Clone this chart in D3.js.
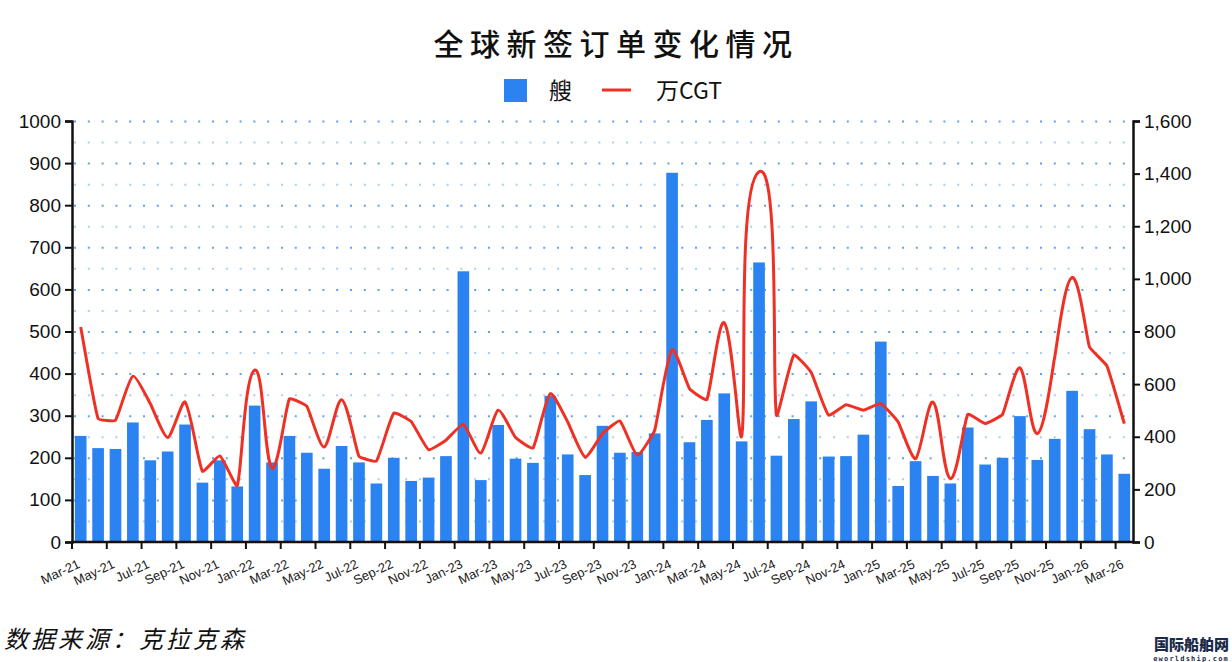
<!DOCTYPE html>
<html>
<head>
<meta charset="utf-8">
<script src="https://cdn.jsdelivr.net/npm/d3@7"></script>
<style>
  body { margin: 0; background: #fff; }
  svg { display: block; }
</style>
</head>
<body>
<svg id="chart"></svg>
<script>
// monthly categories, Mar-21 .. Mar-26
const months = [
  "Mar-21","Apr-21","May-21","Jun-21","Jul-21","Aug-21","Sep-21","Oct-21","Nov-21","Dec-21",
  "Jan-22","Feb-22","Mar-22","Apr-22","May-22","Jun-22","Jul-22","Aug-22","Sep-22","Oct-22","Nov-22","Dec-22",
  "Jan-23","Feb-23","Mar-23","Apr-23","May-23","Jun-23","Jul-23","Aug-23","Sep-23","Oct-23","Nov-23","Dec-23",
  "Jan-24","Feb-24","Mar-24","Apr-24","May-24","Jun-24","Jul-24","Aug-24","Sep-24","Oct-24","Nov-24","Dec-24",
  "Jan-25","Feb-25","Mar-25","Apr-25","May-25","Jun-25","Jul-25","Aug-25","Sep-25","Oct-25","Nov-25","Dec-25",
  "Jan-26","Feb-26","Mar-26"
];

// 艘 (left axis)
const ships = [
  252, 223, 221, 284, 194, 215, 279, 141, 194, 132,
  324, 189, 252, 212, 174, 228, 189, 139, 200, 145, 153, 204,
  643, 147, 278, 198, 188, 347, 208, 159, 276, 212, 214, 258,
  877, 237, 290, 353, 239, 664, 205, 292, 334, 203, 204, 255,
  476, 133, 192, 157, 139, 272, 184, 200, 299, 195, 245, 359,
  268, 208, 162
];

// 万CGT (right axis)
const cgt = [
  817, 469, 463, 630, 526, 397, 532, 269, 327, 215,
  653, 281, 544, 516, 361, 541, 326, 308, 490, 458, 351, 387,
  447, 338, 501, 397, 357, 564, 456, 323, 412, 460, 330, 425,
  731, 583, 541, 833, 402, 1407, 482, 710, 644, 482, 522, 501,
  526, 456, 317, 532, 241, 485, 450, 485, 662, 412, 703, 1005,
  741, 669, 450
];

const leftTicks = [0, 100, 200, 300, 400, 500, 600, 700, 800, 900, 1000];
const rightTicks = [0, 200, 400, 600, 800, 1000, 1200, 1400, 1600];

const width = 1232, height = 662;
const margin = { left: 72, right: 99, top: 121, bottom: 120 };
const svg = d3.select("#chart").attr("width", width).attr("height", height);

const x = d3.scaleBand()
  .domain(months)
  .range([margin.left, width - margin.right])
  .paddingInner(0.33)
  .paddingOuter(0.165);
const step = x.step();
const y = d3.scaleLinear().domain([0, 1000]).range([height - margin.bottom, margin.top]);
const y2 = d3.scaleLinear().domain([0, 1600]).range([height - margin.bottom, margin.top]);

// spreadsheet-style smoothing: bezier handles along neighbour direction,
// length proportional to the segment length
function smoothPath(pts, k) {
  const p = d3.path();
  const dist = (a, b) => Math.hypot(b[0] - a[0], b[1] - a[1]);
  const unit = (a, b) => { const d = dist(a, b) || 1; return [(b[0] - a[0]) / d, (b[1] - a[1]) / d]; };
  p.moveTo(pts[0][0], pts[0][1]);
  for (let i = 0; i < pts.length - 1; i++) {
    const p0 = pts[Math.max(i - 1, 0)], p1 = pts[i], p2 = pts[i + 1], p3 = pts[Math.min(i + 2, pts.length - 1)];
    const d12 = dist(p1, p2);
    const u1 = unit(p0, p2), u2 = unit(p1, p3);
    p.bezierCurveTo(
      p1[0] + u1[0] * d12 * k, p1[1] + u1[1] * d12 * k,
      p2[0] - u2[0] * d12 * k, p2[1] - u2[1] * d12 * k,
      p2[0], p2[1]);
  }
  return p.toString();
}

// dotted grid, every 50 on left axis
const grid = svg.append("g");
grid.selectAll("line")
  .data(d3.range(50, 1001, 50))
  .join("line")
  .attr("x1", margin.left + 2)
  .attr("x2", width - margin.right)
  .attr("y1", d => y(d) + 0.5)
  .attr("y2", d => y(d) + 0.5)
  .attr("stroke", d => d % 100 === 0 ? "#5fa2ee" : "#a8cdf6")
  .attr("stroke-width", 2)
  .attr("stroke-dasharray", "2,11.8");

// bars
svg.append("g")
  .selectAll("rect")
  .data(months)
  .join("rect")
  .attr("x", d => x(d))
  .attr("y", (d, i) => y(ships[i]))
  .attr("width", x.bandwidth())
  .attr("height", (d, i) => y(0) - y(ships[i]))
  .attr("fill", "#2b82f1");

// smoothed line
const pts = cgt.map((v, i) => [x(months[i]) + x.bandwidth() / 2, y2(v)]);
svg.append("path")
  .attr("d", smoothPath(pts, 0.1))
  .attr("fill", "none")
  .attr("stroke", "#ee3124")
  .attr("stroke-width", 3)
  .attr("stroke-linejoin", "round");

// left axis
const axL = svg.append("g")
  .attr("transform", `translate(${margin.left},0)`)
  .call(d3.axisLeft(y).tickValues(leftTicks).tickSize(7).tickPadding(4).tickFormat(d3.format("d")));
// right axis
const axR = svg.append("g")
  .attr("transform", `translate(${width - margin.right},0)`)
  .call(d3.axisRight(y2).tickValues(rightTicks).tickSize(7).tickPadding(4).tickFormat(d3.format(",")));

// bottom axis: ticks at band boundaries every two months
const tickIdx = d3.range(0, months.length, 2);
const axB = svg.append("g").attr("transform", `translate(0,${y(0)})`);
axB.append("line")
  .attr("x1", margin.left - 1).attr("x2", width - margin.right + 1)
  .attr("stroke", "#111").attr("stroke-width", 2.5);
axB.selectAll(".tk")
  .data(tickIdx)
  .join("line")
  .attr("class", "tk")
  .attr("x1", i => margin.left + i * step)
  .attr("x2", i => margin.left + i * step)
  .attr("y2", 7)
  .attr("stroke", "#111").attr("stroke-width", 2);
axB.selectAll("text")
  .data(tickIdx)
  .join("text")
  .attr("transform", i => `translate(${margin.left + i * step + 5},${17}) rotate(-25)`)
  .attr("text-anchor", "end")
  .attr("dy", "0.7em")
  .attr("font-family", "Liberation Sans, Arial, sans-serif")
  .attr("font-size", 13)
  .attr("fill", "#222")
  .text(i => months[i]);

[axL, axR].forEach(g => {
  g.select(".domain").attr("stroke", "#111").attr("stroke-width", 2.5);
  g.selectAll(".tick line").attr("stroke", "#111").attr("stroke-width", 2);
  g.selectAll(".tick text")
    .attr("font-family", "Liberation Sans, Arial, sans-serif")
    .attr("font-size", 19)
    .attr("fill", "#111");
});

// title
svg.append("text")
  .attr("x", 616).attr("y", 55)
  .attr("text-anchor", "middle")
  .attr("font-family", "Noto Sans CJK SC, sans-serif")
  .attr("font-weight", 500)
  .attr("font-size", 30)
  .attr("letter-spacing", 6.5)
  .attr("fill", "#111")
  .text("全球新签订单变化情况");

// legend
const lg = svg.append("g");
lg.append("rect").attr("x", 504).attr("y", 79).attr("width", 23).attr("height", 23).attr("fill", "#2b82f1");
lg.append("text").attr("x", 549).attr("y", 99)
  .attr("font-family", "Noto Sans CJK SC, sans-serif").attr("font-size", 23).attr("fill", "#111")
  .text("艘");
lg.append("line").attr("x1", 602).attr("x2", 631).attr("y1", 90).attr("y2", 90)
  .attr("stroke", "#ee3124").attr("stroke-width", 3);
lg.append("text").attr("x", 656).attr("y", 99)
  .attr("font-family", "Noto Sans CJK SC, sans-serif").attr("font-size", 23).attr("fill", "#111")
  .text("万CGT");

// source
svg.append("text")
  .attr("x", 4).attr("y", 648)
  .attr("font-family", "Noto Sans CJK SC, sans-serif")
  .attr("font-size", 24)
  .attr("font-style", "italic")
  .attr("letter-spacing", 3)
  .attr("fill", "#111")
  .text("数据来源：克拉克森");

// watermark
svg.append("text")
  .attr("x", 1229).attr("y", 650)
  .attr("text-anchor", "end")
  .attr("font-family", "Noto Sans CJK SC, sans-serif")
  .attr("font-weight", 900)
  .attr("font-size", 15)
  .attr("fill", "#1a2a4a")
  .text("国际船舶网");
svg.append("text")
  .attr("x", 1229).attr("y", 661)
  .attr("text-anchor", "end")
  .attr("font-family", "DejaVu Sans Mono, monospace")
  .attr("font-weight", "bold")
  .attr("font-size", 7)
  .attr("letter-spacing", 1.2)
  .attr("fill", "#1a2a4a")
  .text("eworldship.com");
</script>
</body>
</html>
